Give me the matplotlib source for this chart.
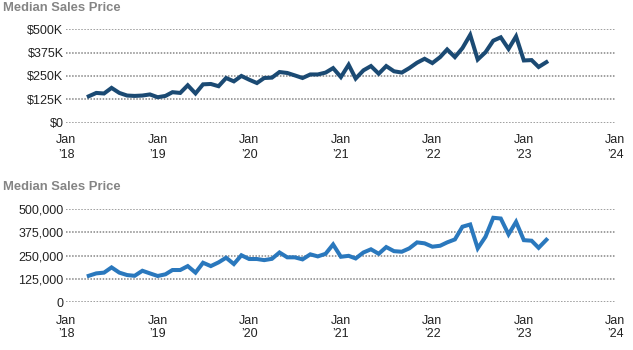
import matplotlib.pyplot as plt
import pandas as pd

# monthly median sales price, Apr 2018 - Apr 2023
months = pd.date_range("2018-04-01", periods=61, freq="MS")

price_top = [141, 159, 156, 186, 159, 145, 143, 145, 151, 136,
             143, 163, 159, 200, 156, 205, 207, 195, 239, 221,
             250, 230, 212, 239, 241, 271, 266, 253, 239, 258,
             258, 268, 292, 244, 310, 236, 280, 303, 262, 303,
             275, 268, 292, 321, 342, 319, 351, 392, 351, 399,
             470, 338, 377, 439, 457, 395, 462, 333, 335, 298,
             324]
price_bottom = [142, 155, 159, 187, 159, 146, 142, 169, 155, 141,
                150, 173, 173, 194, 159, 212, 194, 214, 239, 205,
                252, 232, 232, 226, 233, 267, 241, 241, 230, 257,
                246, 260, 310, 244, 249, 235, 267, 284, 260, 296,
                274, 271, 289, 321, 316, 298, 303, 321, 337, 405,
                417, 289, 351, 453, 449, 364, 431, 333, 330, 292,
                335]
price_top = [v * 1000 for v in price_top]
price_bottom = [v * 1000 for v in price_bottom]

yticks = [0, 125000, 250000, 375000, 500000]
ylabels_top = ["$0", "$125K", "$250K", "$375K", "$500K"]
ylabels_bottom = ["0", "125,000", "250,000", "375,000", "500,000"]
years = list(range(2018, 2025))
xlabels = ["Jan\n\u2019%02d" % (y % 100) for y in years]

plt.rcParams["font.family"] = ["Liberation Sans", "DejaVu Sans"]

fig = plt.figure(figsize=(6.33, 3.5), dpi=100)

left = 66.2 / 633
width = (615.3 - 66.2) / 633
ax1 = fig.add_axes([left, 1 - 122.6 / 350, width, 93.3 / 350])
ax2 = fig.add_axes([left, 1 - 302.3 / 350, width, 93.3 / 350])

panels = [(ax1, price_top, "#1b4a73", ylabels_top, 1.25, 8.5),
          (ax2, price_bottom, "#2a78bd", ylabels_bottom, 1.02, 9.5)]

for ax, vals, col, ylab, lsp, xpad in panels:
    ax.plot(months, vals, color=col, lw=2.9, solid_joinstyle="miter")
    ax.set_xlim(pd.Timestamp("2018-01-01"), pd.Timestamp("2024-01-01"))
    ax.set_ylim(0, 500000)
    ax.set_yticks(yticks)
    ax.set_yticklabels(ylab)
    ax.set_xticks([pd.Timestamp("%d-01-01" % y) for y in years])
    ax.set_xticklabels(xlabels, linespacing=lsp)
    ax.tick_params(axis="both", length=0, labelsize=9, colors="#222222")
    ax.tick_params(axis="y", pad=2)
    ax.tick_params(axis="x", pad=xpad)
    for s in ax.spines.values():
        s.set_visible(False)
    ax.yaxis.grid(True, color="#858585", linewidth=1.1, dashes=(1, 1))
    ax.set_axisbelow(True)

titles = []
for ypix in (8, 187.5):
    t = fig.text(3 / 633, 1 - ypix / 350, "Median Sales Price", fontsize=9,
                 fontweight="bold", color="#858585", va="center", ha="left")
    titles.append(t)

# fit title width to ~118 px like the original
renderer = fig.canvas.get_renderer()
w = titles[0].get_window_extent(renderer).width
for t in titles:
    t.set_fontsize(9 * 118 / w)

fig.savefig("out.png", dpi=100)
